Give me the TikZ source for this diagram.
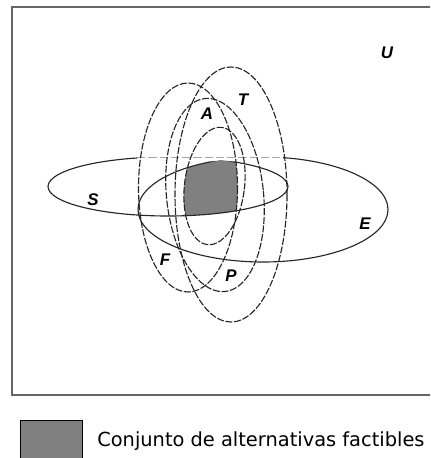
\documentclass[tikz,border=0pt]{standalone}
\usepackage{fontspec}
\setsansfont{Liberation Sans}
\newfontfamily\legendfont{DejaVu Sans}
\usetikzlibrary{positioning}

\tikzset{
  frameline/.style={draw=black!60, line width=1pt},
  solidset/.style={draw=black!85, line width=0.8pt},
  dashset/.style={solidset, dash pattern=on 5pt off 1.2pt},
  faintset/.style={draw=black!35, line width=0.4pt, dash pattern=on 6pt off 2pt},
  setlabel/.style={font=\sffamily\bfseries\itshape\fontsize{12}{12}\selectfont, inner sep=0pt},
  feasible/.style={fill=black!50},
  keybox/.style={draw=black, line width=1pt, fill=black!50},
  keytext/.style={font=\legendfont\fontsize{13.8}{16}\selectfont, inner sep=0pt, anchor=west}
}

% the six sets, in pixel units of the figure
\newcommand{\setS}{(168,186.5) ellipse [x radius=120, y radius=29.5]}
\newcommand{\setE}{(263,209.5) ellipse [x radius=125, y radius=52.5]}
\newcommand{\setF}{(188,187.5) ellipse [x radius=49.5, y radius=104.5]}
\newcommand{\setT}{(231,194.5) ellipse [x radius=56, y radius=127.5]}
% tilted ones: centre, radii, angle
\newcommand{\tilted}[5]{plot[domain=0:360, samples=121, variable=\t]
  ({#1+#3*cos(\t)*cos(#5)-#4*sin(\t)*sin(#5)}, {#2-#3*cos(\t)*sin(#5)-#4*sin(\t)*cos(#5)}) -- cycle}
\newcommand{\setAP}{\tilted{215}{195}{48.5}{97}{6}}
\newcommand{\setIn}{\tilted{214.5}{186}{30}{59}{-7}}

\begin{document}
\begin{tikzpicture}[x=0.025cm, y=-0.025cm]
  \useasboundingbox (0,0) rectangle (430,458);
  \clip (0,0) rectangle (430,458);

  % universe
  \draw[frameline] (12,7) rectangle (450,395);

  % feasible set = intersection of all
  \begin{scope}
    \clip \setS;
    \clip \setE;
    \clip \setF;
    \clip \setT;
    \clip \setAP;
    \clip \setIn;
    \fill[feasible] (100,100) rectangle (330,300);
  \end{scope}

  % S and E, faint along their common top
  \begin{scope}[even odd rule]
    \clip (0,0) rectangle (430,458) (137,140) rectangle (283,161.5);
    \draw[solidset] \setS;
    \draw[solidset] \setE;
  \end{scope}
  \draw[faintset] (137,157) -- (283,157);

  % the vertical sets
  \draw[dashset] \setF;
  \draw[dashset] \setT;
  \draw[dashset] \setAP;
  \draw[dashset] \setIn;

  % labels
  \node[setlabel] (lblU) at (387,53) {U};
  \node[setlabel] (lblT) at (243,100) {T};
  \node[setlabel] (lblA) at (207,114) {A};
  \node[setlabel] (lblS) at (93,200) {S};
  \node[setlabel] (lblE) at (365,224) {E};
  \node[setlabel] (lblF) at (165,260) {F};
  \node[setlabel] (lblP) at (231,276) {P};

  % key
  \node[keybox, minimum width=1.55cm, minimum height=1.05cm, inner sep=0pt, anchor=north west] (key) at (20,420) {};
  \node[keytext] (keylbl) at (97,441) {Conjunto de alternativas factibles};
\end{tikzpicture}
\end{document}
